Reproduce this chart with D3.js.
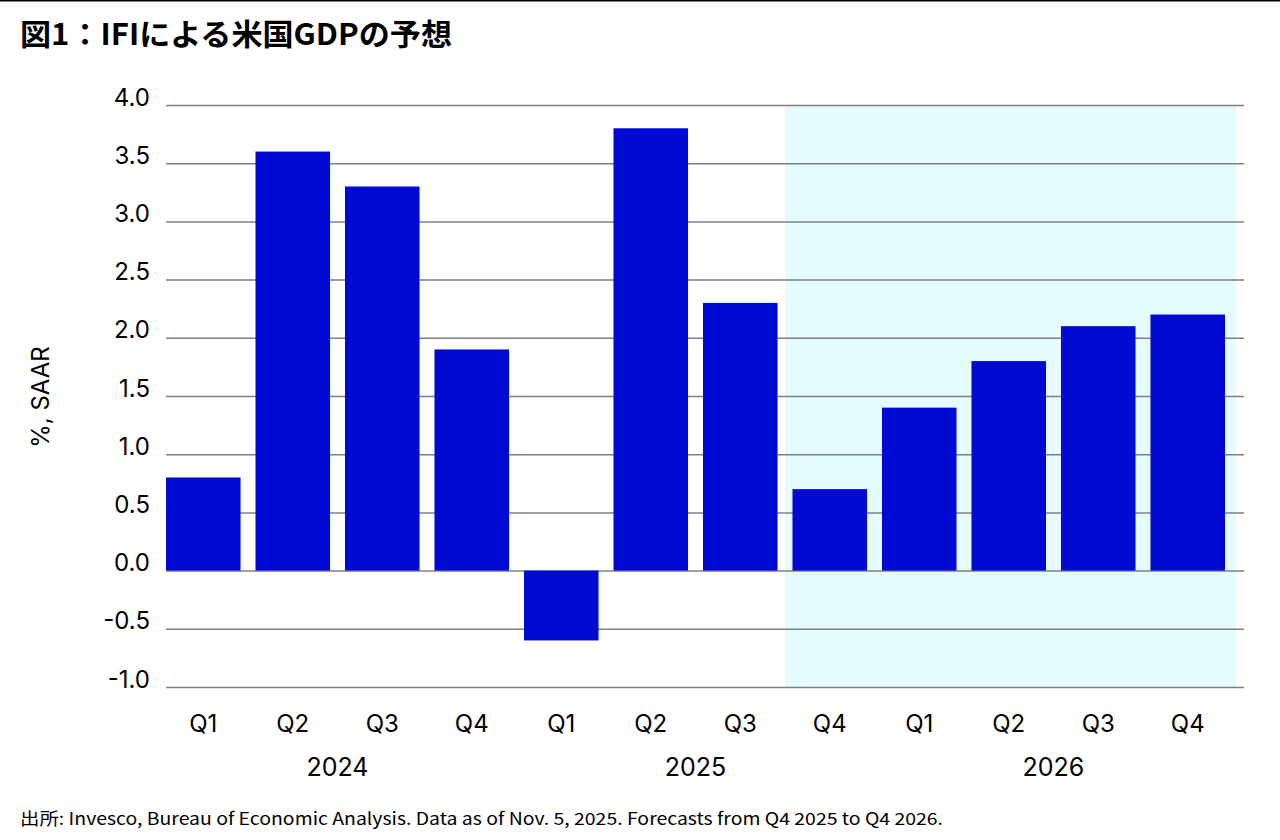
<!DOCTYPE html>
<html>
<head>
<meta charset="utf-8">
<script src="https://cdn.jsdelivr.net/npm/d3@7"></script>
<style>
  body { margin: 0; background: #fff; }
  svg { display: block; }
  .tick text { font-family: Inter, "Noto Sans", sans-serif; }
</style>
</head>
<body>
<svg id="chart" width="1280" height="840"></svg>
<script>
// data
const quarters = ["Q1", "Q2", "Q3", "Q4", "Q1", "Q2", "Q3", "Q4", "Q1", "Q2", "Q3", "Q4"];
const years = ["2024", "2024", "2024", "2024", "2025", "2025", "2025", "2025", "2026", "2026", "2026", "2026"];
const gdp = [0.8, 3.6, 3.3, 1.9, -0.6, 3.8, 2.3, 0.7, 1.4, 1.8, 2.1, 2.2];
const yTicks = [4.0, 3.5, 3.0, 2.5, 2.0, 1.5, 1.0, 0.5, 0.0, -0.5, -1.0];
const forecastStart = "2025 Q4";

const data = quarters.map(function(q, i) {
    return {key: years[i] + " " + q, q: q, year: years[i], value: gdp[i]};
});

const svg = d3.select("#chart");
const plotLeft = 166, plotRight = 1244, plotTop = 105, plotBottom = 687;

let x = d3.scaleBand()
    .domain(data.map(d => d.key))
    .range([plotLeft, 1225])
    .paddingInner(0.167)
    .paddingOuter(0);
let y = d3.scaleLinear()
    .domain([-1, 4])
    .range([plotBottom, plotTop]);

// top rule
svg.append("line")
    .attr("x1", 0).attr("x2", 1280)
    .attr("y1", 0.75).attr("y2", 0.75)
    .attr("stroke", "#000").attr("stroke-width", 1.5);

// title
svg.append("text")
    .attr("x", 20).attr("y", 45)
    .attr("font-family", "'Noto Sans CJK JP', sans-serif")
    .attr("font-weight", "bold")
    .attr("font-size", 30)
    .attr("fill", "#000")
    .attr("textLength", 432)
    .attr("lengthAdjust", "spacingAndGlyphs")
    .text("図1：IFIによる米国GDPの予想");

// forecast shading
const gap = x.step() - x.bandwidth();
const shadeX0 = x(forecastStart) - gap / 2;
const shadeX1 = x(data[data.length - 1].key) + x.bandwidth() + 11;
svg.append("rect")
    .attr("x", shadeX0)
    .attr("y", y(4))
    .attr("width", shadeX1 - shadeX0)
    .attr("height", y(-1) - y(4))
    .attr("fill", "#e5fcff");

// grid lines + y labels
const fmt = d3.format(".1f");
const yAxis = d3.axisLeft(y)
    .tickValues(yTicks)
    .tickSize(-(plotRight - plotLeft))
    .tickFormat(d => fmt(d).replace("−", "-"));
const gy = svg.append("g")
    .attr("transform", "translate(" + plotLeft + ",0)")
    .call(yAxis);
gy.select(".domain").remove();
gy.selectAll(".tick line")
    .attr("stroke", "#7f7f7f")
    .attr("stroke-width", 1.5);
gy.selectAll(".tick text")
    .attr("x", -16)
    .attr("dy", "0.0em")
    .attr("font-size", 24)
    .attr("fill", "#000");

// bars
svg.append("g").selectAll("rect")
    .data(data)
    .enter().append("rect")
    .attr("x", d => x(d.key))
    .attr("y", d => y(Math.max(0, d.value)))
    .attr("width", x.bandwidth())
    .attr("height", d => Math.abs(y(d.value) - y(0)))
    .attr("fill", "#000ad2");

// x axis: quarter labels
const xAxis = d3.axisBottom(x)
    .tickSize(0)
    .tickFormat((d, i) => quarters[i]);
const gx = svg.append("g")
    .attr("transform", "translate(0," + plotBottom + ")")
    .call(xAxis);
gx.select(".domain").remove();
gx.selectAll(".tick text")
    .attr("y", 28)
    .attr("dy", "0.71em")
    .attr("font-size", 24)
    .attr("fill", "#000");

// year labels
const yearGroups = d3.groups(data, d => d.year);
svg.append("g").selectAll("text")
    .data(yearGroups)
    .enter().append("text")
    .attr("x", function(g) {
        const a = g[1][0].key, b = g[1][g[1].length - 1].key;
        return (x(a) + x(b) + x.bandwidth()) / 2;
    })
    .attr("y", 776)
    .attr("text-anchor", "middle")
    .attr("font-family", "Inter, 'Noto Sans', sans-serif")
    .attr("font-size", 25)
    .attr("fill", "#000")
    .text(g => g[0]);

// y axis title
svg.append("text")
    .attr("transform", "translate(49,397) rotate(-90)")
    .attr("text-anchor", "middle")
    .attr("font-family", "Inter, 'Noto Sans', sans-serif")
    .attr("font-size", 24)
    .attr("fill", "#000")
    .text("%, SAAR");

// source note
svg.append("text")
    .attr("x", 20).attr("y", 825)
    .attr("font-family", "'Noto Sans CJK JP', 'Noto Sans', sans-serif")
    .attr("font-size", 17)
    .attr("fill", "#000")
    .attr("textLength", 923)
    .attr("lengthAdjust", "spacingAndGlyphs")
    .text("出所: Invesco, Bureau of Economic Analysis. Data as of Nov. 5, 2025. Forecasts from Q4 2025 to Q4 2026.");
</script>
</body>
</html>
